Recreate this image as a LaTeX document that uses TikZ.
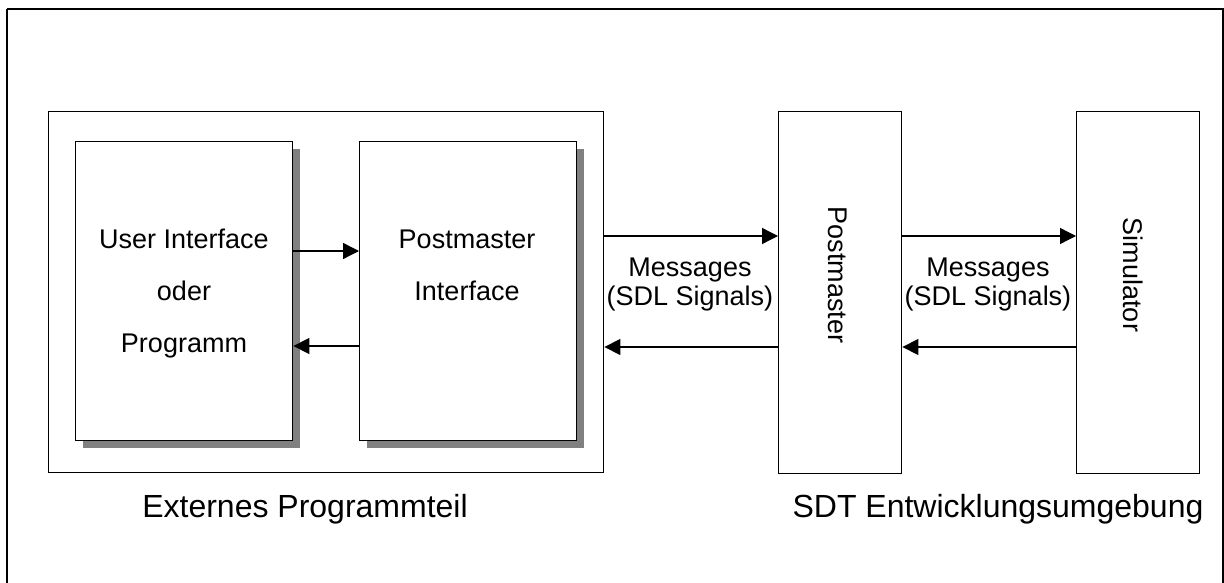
\documentclass[tikz,border=0pt]{standalone}
\usepackage{fontspec}
\setmainfont{Liberation Sans}
\usetikzlibrary{arrows.meta}

\begin{document}
\begin{tikzpicture}[x=1pt,y=-1pt,
  box/.style={draw=black,line width=1.4pt,fill=white,inner sep=0pt,anchor=north west},
  shade/.style={fill=black!50,draw=none},
  lbl/.style={font=\fontsize{27}{27}\selectfont,inner sep=0pt,anchor=base},
  caption/.style={font=\fontsize{32}{32}\selectfont,inner sep=0pt,anchor=base},
  msg/.style={-{Triangle[length=16pt,width=16pt]},line width=1.3pt}
]
\useasboundingbox (0,0) rectangle (1224,583);
\fill[white] (0,0) rectangle (1224,583);

% outer frame
\draw[line width=2.4pt] (7,9) -- (1223,9) -- (1223,600) (7,600) -- (7,9);

% external program part
\node[box,minimum width=555pt,minimum height=361pt] (ext) at (48,111) {};

% shadows of the inner boxes
\fill[shade] (83,149) rectangle (300,448);
\fill[shade] (367,149) rectangle (584,448);

\node[box,minimum width=217pt,minimum height=299pt] (ui) at (75,141) {};
\node[box,minimum width=217pt,minimum height=299pt] (pmi) at (359,141) {};

% SDT side
\node[box,minimum width=123pt,minimum height=362pt] (pm) at (778,111) {};
\node[box,minimum width=123pt,minimum height=362pt] (sim) at (1076,111) {};

% box texts
\node[lbl] (ui1) at (184,248) {User Interface};
\node[lbl] (ui2) at (184,300) {oder};
\node[lbl] (ui3) at (184,352) {Programm};
\node[lbl] (pmi1) at (467,248) {Postmaster};
\node[lbl] (pmi2) at (467,300) {Interface};
\node[font=\fontsize{27}{27}\selectfont,inner sep=0pt,rotate=-90] (pmtext) at (838,275) {Postmaster};
\node[font=\fontsize{27}{27}\selectfont,inner sep=0pt,rotate=-90] (simtext) at (1133,275) {Simulator};

% message labels
\node[lbl] (m1a) at (690,276) {Messages};
\node[lbl] (m1b) at (690,305) {(SDL Signals)};
\node[lbl] (m2a) at (988,276) {Messages};
\node[lbl] (m2b) at (988,305) {(SDL Signals)};

% connectors
\draw[msg] (ui.east |- 0,251) -- (pmi.west |- 0,251);
\draw[msg] (pmi.west |- 0,346) -- (ui.east |- 0,346);
\draw[msg] (ext.east |- 0,236) -- (pm.west |- 0,236);
\draw[msg] (pm.west |- 0,347) -- (ext.east |- 0,347);
\draw[msg] (pm.east |- 0,236) -- (sim.west |- 0,236);
\draw[msg] (sim.west |- 0,347) -- (pm.east |- 0,347);

% captions
\node[caption] (cext) at (305,517) {Externes Programmteil};
\node[caption] (csdt) at (998,517) {SDT Entwicklungsumgebung};
\end{tikzpicture}
\end{document}
